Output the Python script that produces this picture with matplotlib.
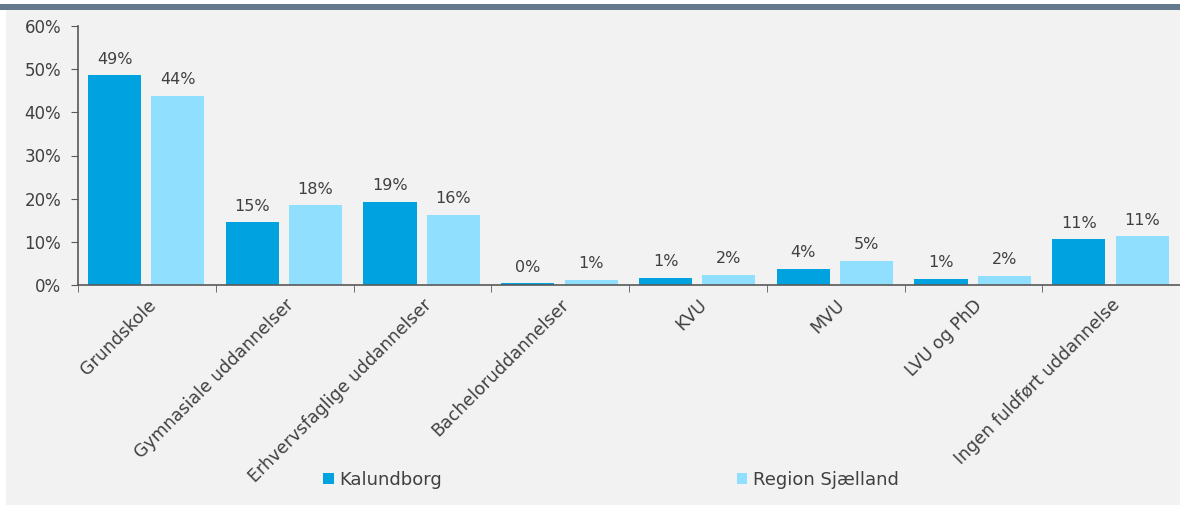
import numpy as np
import matplotlib
matplotlib.use("Agg")
from matplotlib import pyplot as plt
from matplotlib.patches import Rectangle
from matplotlib.ticker import FixedLocator, PercentFormatter

categories = [
    "Grundskole",
    "Gymnasiale uddannelser",
    "Erhvervsfaglige uddannelser",
    "Bacheloruddannelser",
    "KVU",
    "MVU",
    "LVU og PhD",
    "Ingen fuldført uddannelse",
]
kalundborg = [48.6, 14.5, 19.2, 0.4, 1.6, 3.8, 1.4, 10.6]
region = [43.8, 18.5, 16.2, 1.2, 2.3, 5.6, 2.2, 11.3]
kalundborg_labels = ["49%", "15%", "19%", "0%", "1%", "4%", "1%", "11%"]
region_labels = ["44%", "18%", "16%", "1%", "2%", "5%", "2%", "11%"]
series_names = ["Kalundborg", "Region Sjælland"]

col_k = "#00A3E0"
col_r = "#91DFFF"
text_col = "#404040"
axis_col = "#595959"

plt.rcParams["font.family"] = ["DejaVu Sans"]

fig = plt.figure(figsize=(11.8, 5.05), dpi=100)
fig.patch.set_facecolor("white")

# gray panel and top band
fig.patches.append(Rectangle((6 / 1180, 0), 1, 1 - 9 / 505, transform=fig.transFigure,
                             facecolor="#F2F2F2", edgecolor="none", zorder=-5))
fig.patches.append(Rectangle((0, 1 - 9.5 / 505), 1, 5 / 505, transform=fig.transFigure,
                             facecolor="#64798C", edgecolor="none", zorder=-5))

ax = fig.add_axes([78 / 1180, 1 - 285 / 505, 1102 / 1180, (285 - 26) / 505])
ax.set_facecolor("none")
ax.set_zorder(2)

x = np.arange(len(categories))
w = 0.385
b1 = ax.bar(x - 0.235, kalundborg, w, color=col_k, label=series_names[0], zorder=2)
b2 = ax.bar(x + 0.225, region, w, color=col_r, label=series_names[1], zorder=2)

for bars, labels in ((b1, kalundborg_labels), (b2, region_labels)):
    for rect, lab in zip(bars, labels):
        ax.text(rect.get_x() + rect.get_width() / 2, rect.get_height() + 2.0, lab,
                ha="center", va="bottom", fontsize=11.5, color=text_col)

ax.set_xlim(-0.5, len(categories) - 0.5)
ax.set_ylim(0, 60)
ax.yaxis.set_major_locator(FixedLocator([0, 10, 20, 30, 40, 50, 60]))
ax.yaxis.set_major_formatter(PercentFormatter(decimals=0))

ax.set_xticks(x)
ax.set_xticklabels(categories, rotation=45, ha="right", rotation_mode="anchor",
                   fontsize=12.5, color=text_col)
ax.tick_params(axis="x", which="major", length=0, pad=8)
ax.set_xticks(np.arange(-0.5, len(categories)), minor=True)
ax.tick_params(axis="x", which="minor", length=5, color=axis_col, direction="out")
ax.tick_params(axis="y", length=5, color=axis_col, labelsize=12, labelcolor=text_col, pad=7)

for s in ("top", "right"):
    ax.spines[s].set_visible(False)
for s in ("left", "bottom"):
    ax.spines[s].set_color(axis_col)
    ax.spines[s].set_linewidth(1.2)

leg = fig.legend(handles=[b1, b2], loc="center", bbox_to_anchor=(611 / 1180, 1 - 480 / 505),
                 ncol=2, frameon=False, fontsize=13, handlelength=0.6, handleheight=0.6,
                 handletextpad=0.3, columnspacing=16.3, labelcolor=text_col)
leg.set_zorder(3)

fig.savefig("out.png", dpi=100)
